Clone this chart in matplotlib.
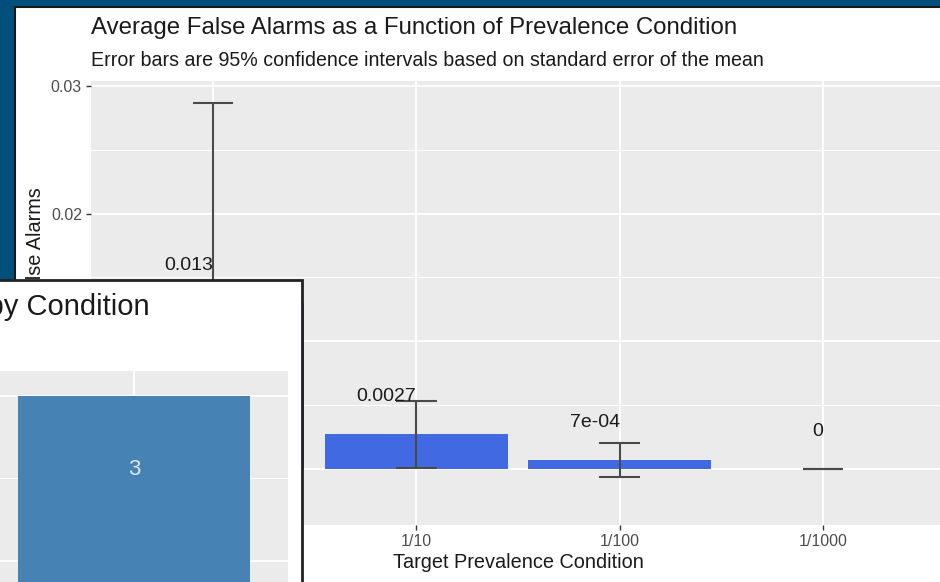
"""Average false alarms by target prevalence condition (ggplot-like look),
with a second chart window partly covering it, as in the screenshot."""

import numpy as np
import matplotlib
matplotlib.use("Agg")
import matplotlib.pyplot as plt
from matplotlib.patches import Rectangle
from matplotlib.ticker import MultipleLocator, FormatStrFormatter

plt.rcParams['font.family'] = ['Liberation Sans', 'DejaVu Sans']

# --- DATA ---
conditions = ['1/2', '1/10', '1/100', '1/1000']
mean_fa = [0.013, 0.0027, 0.0007, 0.0]
ci_low = [-0.0027, 0.0001, -0.0006, 0.0]
ci_high = [0.0287, 0.0053, 0.0020, 0.0]
value_labels = ['0.013', '0.0027', '7e-04', '0']

# the other window (only one bar of it is visible)
inset_conditions = ['1/2']
inset_counts = [3]

# --- FIGURE ---
W, H = 940, 582
fig = plt.figure(figsize=(W / 100, H / 100), dpi=100)
fig.patch.set_facecolor('#01507B')


def px_box(left, top, right, bottom):
    """pixel box (from top-left) -> figure fraction [l, b, w, h]"""
    return [left / W, 1 - bottom / H, (right - left) / W, (bottom - top) / H]


# white window of the main chart
fig.add_artist(Rectangle((15 / W, -0.1), 1.0, 1 - 7 / H + 0.1, transform=fig.transFigure,
                         facecolor='white', edgecolor='#1a1a1a', lw=1.5, zorder=-1))

ax = fig.add_axes(px_box(91, 81, 945, 525), zorder=0)
ax.set_facecolor('#EBEBEB')
for s in ax.spines.values():
    s.set_visible(False)

x = np.arange(len(conditions))
ax.bar(x, mean_fa, width=0.9, color='#4169E1', zorder=2)
ax.vlines(x, ci_low, ci_high, color='#4a4a4a', lw=1.5, zorder=3)
ax.hlines(ci_low, x - 0.1, x + 0.1, color='#4a4a4a', lw=1.5, zorder=3)
ax.hlines(ci_high, x - 0.1, x + 0.1, color='#4a4a4a', lw=1.5, zorder=3)

for xi, yi, txt in zip(x, mean_fa, value_labels):
    ax.annotate(txt, (xi, yi), xytext=(0, 27), textcoords='offset points',
                ha='right', va='center', fontsize=14, color='#1a1a1a', zorder=4)

ax.set_xlim(-0.6, 3.6)
ax.set_ylim(-0.0044, 0.0304)
ax.set_xticks(x)
ax.set_xticklabels(conditions)
ax.yaxis.set_major_locator(MultipleLocator(0.01))
ax.yaxis.set_minor_locator(MultipleLocator(0.005))
ax.yaxis.set_major_formatter(FormatStrFormatter('%.2f'))
ax.grid(which='major', color='white', lw=1.3)
ax.grid(which='minor', axis='y', color='white', lw=0.7)
ax.set_axisbelow(True)
ax.tick_params(which='major', length=3.5, width=1, color='#333333',
               labelcolor='#4D4D4D', labelsize=11.5, pad=3)
ax.tick_params(which='minor', length=0)
ax.set_xlabel('Target Prevalence Condition', fontsize=14.3, color='#1a1a1a', labelpad=3)

fig.text(36 / W, 1 - 187 / H, 'Average False Alarms', rotation=90, ha='center', va='top',
         fontsize=14.3, color='#1a1a1a', zorder=0.5)
fig.text(91 / W, 1 - 28 / H, 'Average False Alarms as a Function of Prevalence Condition',
         ha='left', va='center', fontsize=17.3, color='#1a1a1a')
fig.text(91 / W, 1 - 61 / H, 'Error bars are 95% confidence intervals based on standard error of the mean',
         ha='left', va='center', fontsize=14.1, color='#1a1a1a')

# --- OTHER WINDOW ON TOP ---
fig.add_artist(Rectangle((-0.1, -0.1), 0.1 + 302 / W, 0.1 + 1 - 280 / H, transform=fig.transFigure,
                         facecolor='white', edgecolor='#222222', lw=2, zorder=1))

ax2 = fig.add_axes(px_box(-20, 371, 288, 371 + 3.15 * 165), zorder=2)
ax2.set_facecolor('#EBEBEB')
for s in ax2.spines.values():
    s.set_visible(False)
xi2 = np.arange(len(inset_conditions))
ax2.bar(xi2, inset_counts, width=0.9, color='#4682B4', zorder=2)
for xx, c in zip(xi2, inset_counts):
    ax2.annotate(str(c), (xx, c), xytext=(0, -53), textcoords='offset points',
                 ha='center', va='center', fontsize=16, color='#dce8f2')
ax2.set_xlim(-0.6, 0.6)
ax2.set_ylim(0, 3.15)
ax2.set_xticks(xi2)
ax2.yaxis.set_major_locator(MultipleLocator(1))
ax2.yaxis.set_minor_locator(MultipleLocator(0.5))
ax2.grid(which='major', color='white', lw=1.3)
ax2.grid(which='minor', axis='y', color='white', lw=0.7)
ax2.set_axisbelow(True)
ax2.tick_params(which='both', length=0, labelbottom=False, labelleft=False)

fig.text(150 / W, 1 - 307 / H, 'Participants by Condition', ha='right', va='center',
         fontsize=21, color='#1a1a1a', zorder=3)

fig.savefig('out.png', dpi=100, facecolor=fig.get_facecolor())
